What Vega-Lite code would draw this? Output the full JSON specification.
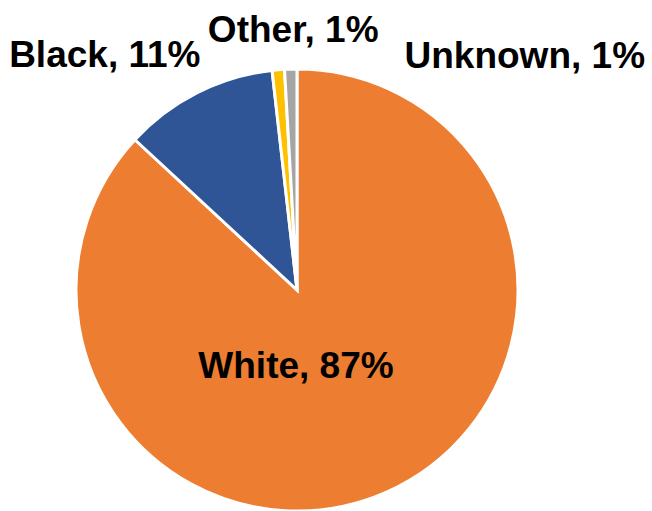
{
  "$schema": "https://vega.github.io/schema/vega-lite/v6.json",
  "autosize": {"type": "none"},
  "width": 594,
  "height": 580,
  "padding": {"left": 0, "top": 0, "right": 58, "bottom": 0},
  "background": "white",
  "data": {
    "values": [
      {"race": "White", "pct": 86.9, "rank": 1, "label": "White, 87%"},
      {"race": "Black", "pct": 11.3, "rank": 2, "label": "Black, 11%"},
      {"race": "Other", "pct": 0.9, "rank": 3, "label": "Other, 1%"},
      {"race": "Unknown", "pct": 0.9, "rank": 4, "label": "Unknown, 1%"}
    ]
  },
  "encoding": {
    "theta": {"field": "pct", "type": "quantitative", "stack": true},
    "order": {"field": "rank", "type": "quantitative"}
  },
  "layer": [
    {
      "mark": {"type": "arc", "outerRadius": 221, "stroke": "white", "strokeWidth": 3},
      "encoding": {
        "color": {
          "field": "race",
          "type": "nominal",
          "scale": {"domain": ["White", "Black", "Other", "Unknown"], "range": ["#ED7D31", "#2F5597", "#FFC000", "#A5A5A5"]},
          "legend": null
        }
      }
    },
    {
      "transform": [{"filter": "datum.race === 'White'"}],
      "mark": {"type": "text", "radius": 90, "dx": -37, "dy": 6, "baseline": "alphabetic", "align": "center", "font": "Liberation Sans", "fontWeight": "bold", "fontSize": 37, "fill": "black"},
      "encoding": {"text": {"field": "label"}}
    },
    {
      "transform": [{"filter": "datum.race === 'Black'"}],
      "mark": {"type": "text", "radius": 290, "dx": -293, "dy": 49, "baseline": "alphabetic", "align": "center", "font": "Liberation Sans", "fontWeight": "bold", "fontSize": 37, "fill": "black"},
      "encoding": {"text": {"field": "label"}}
    },
    {
      "transform": [{"filter": "datum.race === 'Other'"}],
      "mark": {"type": "text", "radius": 255, "dx": -11, "dy": 7, "baseline": "alphabetic", "align": "center", "font": "Liberation Sans", "fontWeight": "bold", "fontSize": 37, "fill": "black"},
      "encoding": {"text": {"field": "label"}}
    },
    {
      "transform": [{"filter": "datum.race === 'Unknown'"}],
      "mark": {"type": "text", "radius": 240, "dx": 221, "dy": 18, "baseline": "alphabetic", "align": "center", "font": "Liberation Sans", "fontWeight": "bold", "fontSize": 37, "fill": "black"},
      "encoding": {"text": {"field": "label"}}
    }
  ]
}
